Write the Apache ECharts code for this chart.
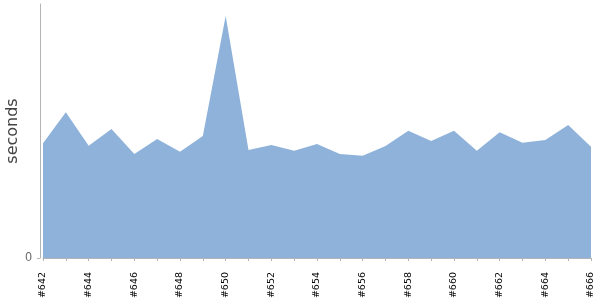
<!DOCTYPE html>
<html>
<head>
<meta charset="utf-8">
<script src="https://cdn.jsdelivr.net/npm/echarts@6/dist/echarts.min.js"></script>
<style>html,body{margin:0;padding:0;background:#fff}#c{width:600px;height:300px}</style>
</head>
<body>
<div id="c"></div>
<script>
var categories = ['#642','#643','#644','#645','#646','#647','#648','#649','#650','#651','#652','#653','#654','#655','#656','#657','#658','#659','#660','#661','#662','#663','#664','#665','#666'];
var seconds = [11.47,14.57,11.23,12.9,10.4,11.9,10.63,12.2,24.2,10.8,11.3,10.73,11.4,10.4,10.23,11.2,12.73,11.7,12.73,10.73,12.57,11.53,11.8,13.3,11.13];
var yMax = 25.4;
var yTicks = [0];

var chart = echarts.init(document.getElementById('c'), null, {renderer: 'canvas'});
chart.setOption({
  animation: false,
  grid: {left: 43, right: 9, top: 4, bottom: 42, containLabel: false, outerBoundsMode: 'none'},
  xAxis: {
    type: 'category',
    data: categories,
    boundaryGap: false,
    offset: 5,
    axisLine: {lineStyle: {color: '#b4b4b4', width: 1}},
    axisTick: {show: true, length: 3, interval: 0, lineStyle: {color: '#b4b4b4'}},
    axisLabel: {interval: 1, rotate: 90, margin: 9, fontSize: 9.5, color: '#000', fontFamily: 'DejaVu Sans'}
  },
  yAxis: {
    type: 'value',
    min: 0,
    max: yMax,
    offset: 3,
    name: 'seconds',
    nameLocation: 'middle',
    nameGap: 19,
    nameMoveOverlap: false,
    nameTextStyle: {fontSize: 16, color: '#444', fontFamily: 'DejaVu Sans'},
    splitLine: {show: false},
    axisLine: {show: true, lineStyle: {color: '#b4b4b4', width: 1}},
    axisTick: {show: true, length: 3, customValues: yTicks, lineStyle: {color: '#b4b4b4'}},
    axisLabel: {customValues: yTicks, margin: 8, fontSize: 12, color: '#666', fontFamily: 'Liberation Sans'}
  },
  series: [{
    type: 'line',
    data: seconds,
    showSymbol: false,
    symbol: 'none',
    lineStyle: {width: 0, color: '#8fb2db'},
    itemStyle: {color: '#8fb2db'},
    areaStyle: {color: '#8fb2db', opacity: 1}
  }]
});
</script>
</body>
</html>
